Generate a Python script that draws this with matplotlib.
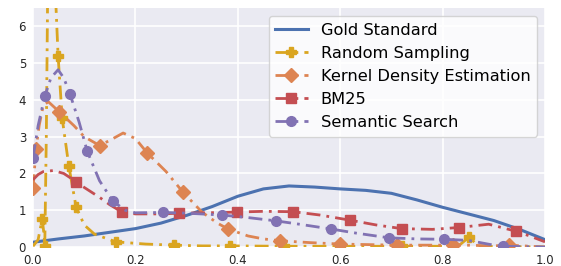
import matplotlib
matplotlib.use("Agg")
import matplotlib.pyplot as plt

# style like seaborn darkgrid
plt.rcParams.update({
    "axes.facecolor": "#EAEAF2",
    "axes.edgecolor": "white",
    "axes.grid": True,
    "grid.color": "white",
    "grid.linewidth": 1.2,
    "axes.linewidth": 0,
    "xtick.color": ".15",
    "ytick.color": ".15",
    "xtick.major.size": 0,
    "ytick.major.size": 0,
    "font.family": ["DejaVu Sans"],
})

# Gold Standard
gold_x = [0, 0.05, 0.1, 0.15, 0.2, 0.25, 0.3, 0.35, 0.4, 0.45, 0.5, 0.55, 0.6, 0.65, 0.7, 0.75, 0.8, 0.85, 0.9, 0.95, 1.0]
gold_y = [0.13, 0.22, 0.3, 0.4, 0.5, 0.65, 0.86, 1.1, 1.38, 1.58, 1.66, 1.63, 1.58, 1.54, 1.46, 1.28, 1.08, 0.9, 0.72, 0.48, 0.2]

# Random Sampling
rand_x = [0, 0.01, 0.018, 0.021, 0.023, 0.026, 0.029, 0.034, 0.04, 0.045, 0.049, 0.057, 0.07, 0.084,
          0.1, 0.12, 0.162, 0.22, 0.275, 0.33, 0.385, 0.49, 0.6, 0.72, 0.83, 0.852, 0.87, 0.93, 1.0]
rand_y = [0.02, 0.2, 0.76, 0.4, 0.03, 3.0, 7.5, 9.5, 8.3, 6.5, 5.2, 3.5, 2.2, 1.1,
          0.6, 0.35, 0.14, 0.08, 0.05, 0.03, 0.03, 0.02, 0.02, 0.02, 0.02, 0.27, 0.02, 0.01, 0.0]
rand_marks = [2, 4, 10, 11, 12, 13, 16, 18, 20, 21, 22, 23, 25]

# Kernel Density Estimation
kde_x = [0, 0.006, 0.012, 0.02, 0.03, 0.051, 0.08, 0.1, 0.13, 0.15, 0.176, 0.2, 0.223, 0.26, 0.293,
         0.33, 0.36, 0.381, 0.42, 0.45, 0.482, 0.54, 0.6, 0.71, 0.8, 0.82, 0.9, 0.93, 1.0]
kde_y = [1.6, 2.67, 3.3, 3.85, 3.95, 3.68, 3.3, 3.0, 2.76, 2.9, 3.1, 2.95, 2.56, 2.05, 1.49,
         0.95, 0.65, 0.49, 0.3, 0.22, 0.17, 0.12, 0.08, 0.05, 0.05, 0.06, 0.03, 0.05, 0.0]
kde_marks = [0, 1, 5, 8, 12, 14, 17, 20, 22, 23, 25, 27]

# BM25
bm_x = [0, 0.01, 0.02, 0.04, 0.06, 0.084, 0.1, 0.13, 0.15, 0.174, 0.2, 0.25, 0.286, 0.34, 0.398,
        0.45, 0.508, 0.56, 0.619, 0.67, 0.72, 0.78, 0.832, 0.89, 0.943, 0.97, 1.0]
bm_y = [1.83, 1.97, 2.05, 2.08, 2.0, 1.78, 1.62, 1.35, 1.15, 0.95, 0.9, 0.9, 0.92, 0.93, 0.95,
        0.97, 0.96, 0.87, 0.73, 0.6, 0.5, 0.48, 0.53, 0.62, 0.43, 0.3, 0.14]
bm_marks = [5, 9, 12, 14, 16, 18, 20, 22, 24]

# Semantic Search
sem_x = [0, 0.01, 0.023, 0.035, 0.049, 0.06, 0.072, 0.09, 0.106, 0.13, 0.156, 0.18, 0.2, 0.254, 0.3,
         0.369, 0.42, 0.475, 0.52, 0.582, 0.63, 0.695, 0.75, 0.803, 0.85, 0.9, 0.918, 1.0]
sem_y = [2.42, 3.3, 4.1, 4.6, 4.82, 4.6, 4.17, 3.4, 2.6, 1.8, 1.25, 1.0, 0.93, 0.94, 0.92,
         0.87, 0.8, 0.71, 0.62, 0.49, 0.38, 0.25, 0.22, 0.21, 0.18, 0.05, 0.02, 0.0]
sem_marks = [0, 2, 6, 8, 10, 13, 15, 17, 19, 21, 23, 26]

fig = plt.figure(figsize=(5.61, 2.66), dpi=100)
ax = fig.add_axes([33 / 561, 1 - 247 / 266, 512 / 561, 239 / 266])

lw = 2
ms = 7
dd = (0, (5, 2.2, 1, 2.2))
ax.plot(gold_x, gold_y, color="#4C72B0", lw=lw + 0.2, label="Gold Standard")
ax.plot(rand_x, rand_y, color="#DAA520", lw=lw, ls=dd, marker="P", ms=ms,
        markevery=rand_marks, label="Random Sampling")
ax.plot(kde_x, kde_y, color="#DD8452", lw=lw, ls=dd, marker="D", ms=ms,
        markevery=kde_marks, label="Kernel Density Estimation")
ax.plot(bm_x, bm_y, color="#C44E52", lw=lw, ls=dd, marker="s", ms=ms,
        markevery=bm_marks, label="BM25")
ax.plot(sem_x, sem_y, color="#8172B3", lw=lw, ls=dd, marker="o", ms=ms,
        markevery=sem_marks, label="Semantic Search")

ax.set_xlim(0, 1)
ax.set_ylim(0, 6.5)
ax.set_xticks([0, 0.2, 0.4, 0.6, 0.8, 1.0])
ax.set_yticks([0, 1, 2, 3, 4, 5, 6])
ax.tick_params(labelsize=8.5, pad=5)
for s in ax.spines.values():
    s.set_visible(False)

ax.legend(loc="upper right", fontsize=11.7, facecolor="white", framealpha=0.8, edgecolor="#cccccc")

fig.savefig("out.png", dpi=100)
